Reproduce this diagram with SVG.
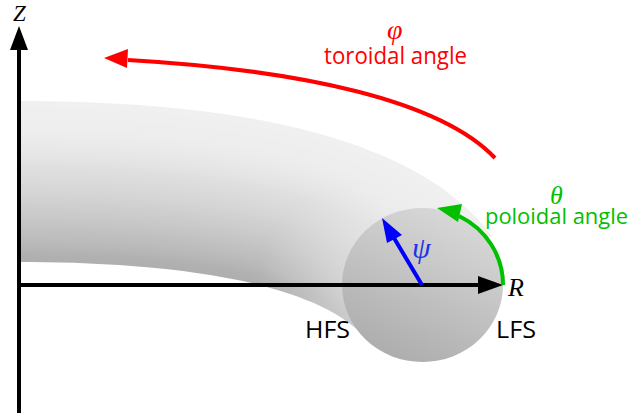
<svg xmlns="http://www.w3.org/2000/svg" width="630" height="417" viewBox="0 0 630 417">
<style>
.lab{font-family:"Open Sans","Liberation Sans",sans-serif;font-size:23px}
.math{font-family:"Liberation Serif",serif;font-style:italic}
.ax{fill:none;stroke:#000;stroke-width:4}
</style>
<defs>
<clipPath id="outline"><path d="M19 101C200 101 410 125 492 236L368 340C310 272 130 262 19 262Z"/></clipPath>
<filter id="soft" filterUnits="userSpaceOnUse" x="-40" y="60" width="620" height="360"><feGaussianBlur stdDeviation="4"/></filter>
<linearGradient id="disc" x1="0.85" y1="0.1" x2="0.42" y2="1"><stop offset="0" stop-color="#d8d8d8"/><stop offset="1" stop-color="#aeaeae"/></linearGradient>
<radialGradient id="glow" gradientUnits="userSpaceOnUse" cx="375" cy="305" r="125"><stop offset="0" stop-color="#fff" stop-opacity="0.45"/><stop offset="1" stop-color="#fff" stop-opacity="0"/></radialGradient>
</defs>
<g id="torus" clip-path="url(#outline)"><g filter="url(#soft)">
<rect x="-30" y="70" width="600" height="340" fill="#f0f0f0"/>
<path fill="#efefef" d="M-20 111.1H19C195.6 111.1 403.1 133.9 483.9 242.2L352 400H-20Z"/>
<path fill="#eeeeee" d="M-20 121.1H19C191.3 121.1 396.3 142.9 475.8 248.4L352 400H-20Z"/>
<path fill="#ececec" d="M-20 131.2H19C186.9 131.2 389.4 151.8 467.6 254.6L352 400H-20Z"/>
<path fill="#e9e9e9" d="M-20 141.3H19C182.5 141.3 382.5 160.8 459.5 260.8L352 400H-20Z"/>
<path fill="#e5e5e5" d="M-20 151.3H19C178.1 151.3 375.6 169.7 451.4 266.9L352 400H-20Z"/>
<path fill="#e0e0e0" d="M-20 161.4H19C173.8 161.4 368.8 178.6 443.3 273.1L352 400H-20Z"/>
<path fill="#dcdcdc" d="M-20 171.4H19C169.4 171.4 361.9 187.6 435.1 279.3L352 400H-20Z"/>
<path fill="#d8d8d8" d="M-20 181.5H19C165 181.5 355 196.5 427 285.5L352 400H-20Z"/>
<path fill="#d3d3d3" d="M-20 191.6H19C160.6 191.6 348.1 205.5 418.9 291.7L352 400H-20Z"/>
<path fill="#cecece" d="M-20 201.6H19C156.3 201.6 341.3 214.4 410.8 297.9L352 400H-20Z"/>
<path fill="#c9c9c9" d="M-20 211.7H19C151.9 211.7 334.4 223.3 402.6 304.1L352 400H-20Z"/>
<path fill="#c3c3c3" d="M-20 221.8H19C147.5 221.8 327.5 232.3 394.5 310.3L352 400H-20Z"/>
<path fill="#bdbdbd" d="M-20 231.8H19C143.1 231.8 320.6 241.2 386.4 316.5L352 400H-20Z"/>
<path fill="#b7b7b7" d="M-20 241.9H19C138.8 241.9 313.8 250.2 378.3 322.7L352 400H-20Z"/>
<path fill="#afafaf" d="M-20 251.9H19C134.4 251.9 306.9 259.1 370.1 328.8L352 400H-20Z"/>
</g><rect x="240" y="170" width="270" height="180" fill="url(#glow)"/></g>
<g id="disc-section"><ellipse cx="422.5" cy="285" rx="80.5" ry="77" fill="url(#disc)"/></g>
<g id="connectors">
<path class="ax" d="M19 413V49"/><polygon points="19,26 28,50 10,50"/>
<path class="ax" d="M19 285H479"/><polygon points="503,285 478,276 478,294"/>
<path d="M495 158C440 100 300 70 128 60" fill="none" stroke="#ff0000" stroke-width="4"/><polygon points="104,58 128,49 127,68" fill="#ff0000"/>
<path d="M503 285A80.5 77 0 0 0 459 216" fill="none" stroke="#00c000" stroke-width="4"/><polygon points="437,208 462,204 458,222" fill="#00c000"/>
<path d="M422 285L394 238" fill="none" stroke="#0000ff" stroke-width="4"/><polygon points="382,218 402,235 387,243" fill="#0000ff"/>
</g>
<g id="labels">
<text class="math" x="13" y="21" font-size="23">Z</text>
<text class="math" x="508" y="296" font-size="26">R</text>
<text class="math" x="387" y="39" font-size="28" fill="#ff0000">φ</text>
<text class="lab" x="324" y="64" fill="#ff0000" textLength="143" lengthAdjust="spacingAndGlyphs">toroidal angle</text>
<text class="math" x="550" y="204" font-size="26" fill="#00c000">θ</text>
<text class="lab" x="485" y="224" fill="#00c000" font-size="22" style="font-size:22px" textLength="143" lengthAdjust="spacingAndGlyphs">poloidal angle</text>
<text class="math" x="412" y="258" font-size="30" fill="#2030e8">ψ</text>
<text class="lab" x="305" y="338" fill="#000" textLength="45" lengthAdjust="spacingAndGlyphs">HFS</text>
<text class="lab" x="496" y="338" fill="#000" textLength="40" lengthAdjust="spacingAndGlyphs">LFS</text>
</g>
</svg>
